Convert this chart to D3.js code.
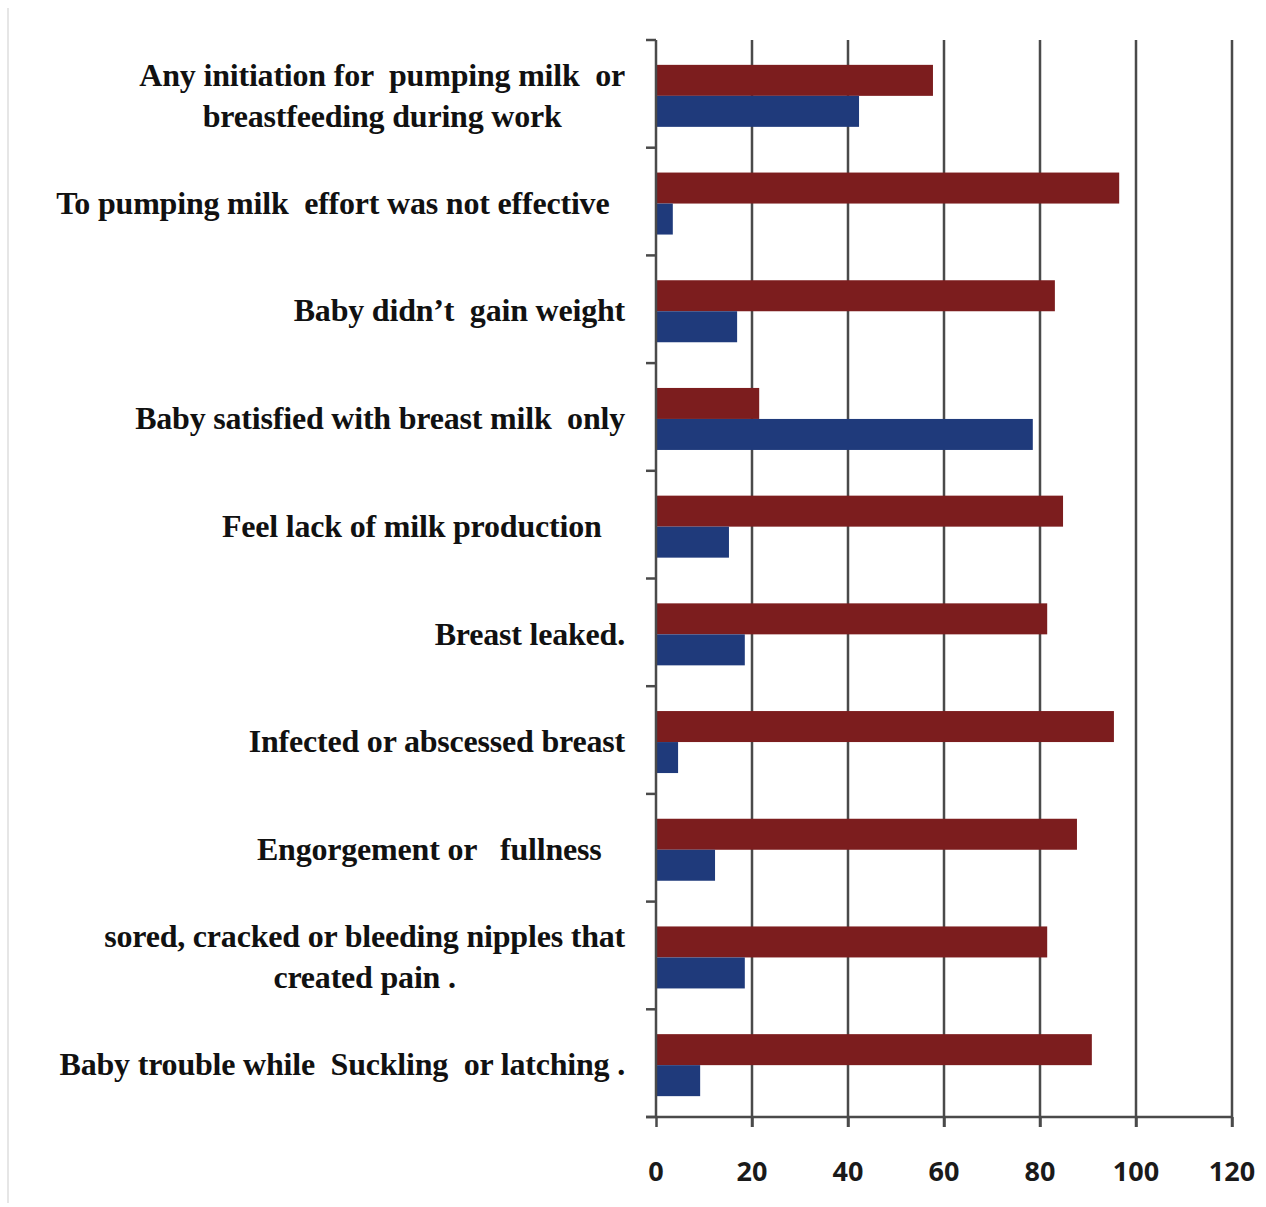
<!DOCTYPE html>
<html>
<head>
<meta charset="utf-8">
<script src="https://cdn.jsdelivr.net/npm/d3@7"></script>
<style>
  body { margin: 0; background: #fff; }
  svg { display: block; }
  .cat { font-family: "Liberation Serif", "DejaVu Serif", serif; font-weight: bold; font-size: 32px; fill: #111; letter-spacing: -0.2px; white-space: pre; }
  .tick-label { font-family: "Open Sans", "DejaVu Sans", sans-serif; font-weight: bold; font-size: 27px; fill: #1a1a1a; }
</style>
</head>
<body>
<div id="container"></div>
<script>
// categories top to bottom, each may have two lines
const categories = [
    ['Any initiation for  pumping milk  or', 'breastfeeding during work'],
    ['To pumping milk  effort was not effective  '],
    ['Baby didn\u2019t  gain weight'],
    ['Baby satisfied with breast milk  only'],
    ['Feel lack of milk production   '],
    ['Breast leaked.'],
    ['Infected or abscessed breast'],
    ['Engorgement or   fullness   '],
    ['sored, cracked or bleeding nipples that', 'created pain .'],
    ['Baby trouble while  Suckling  or latching .']
];
const redValues = [57.7, 96.5, 83.1, 21.5, 84.8, 81.5, 95.4, 87.7, 81.5, 90.8];
const blueValues = [42.3, 3.5, 16.9, 78.5, 15.2, 18.5, 4.6, 12.3, 18.5, 9.2];
const xTicks = [0, 20, 40, 60, 80, 100, 120];

const width = 1266;
const height = 1207;
const margin = { top: 40, left: 656, right: 34, bottom: 90 };
const plotW = width - margin.left - margin.right;
const plotH = height - margin.top - margin.bottom;
const red = '#7c1d1e';
const blue = '#1f3a7b';
const gridColor = '#4a4a4a';

const svg = d3.select('#container').append('svg')
    .attr('width', width)
    .attr('height', height);

// faint frame on the left, as in the scanned figure
svg.append('line')
    .attr('x1', 8).attr('x2', 8)
    .attr('y1', 8).attr('y2', height - 4)
    .attr('stroke', '#e6e6e6').attr('stroke-width', 2);

const g = svg.append('g').attr('transform', `translate(${margin.left},${margin.top})`);

const x = d3.scaleLinear().domain([0, 120]).range([0, plotW]);
const y = d3.scaleBand().domain(d3.range(categories.length)).range([0, plotH]);
const sub = d3.scaleBand().domain(['red', 'blue']).range([0, 62]);
const groupOffset = (y.bandwidth() - 62) / 2 + 2;

// vertical gridlines
g.selectAll('.grid')
    .data(xTicks.filter(d => d > 0))
    .join('line')
    .attr('x1', d => x(d)).attr('x2', d => x(d))
    .attr('y1', 0).attr('y2', plotH + 10)
    .attr('stroke', gridColor)
    .attr('stroke-width', 2.5);

// bars
const groups = g.selectAll('.grp')
    .data(categories)
    .join('g')
    .attr('transform', (d, i) => `translate(0,${y(i) + groupOffset})`);

groups.append('rect')
    .attr('x', 0)
    .attr('y', sub('red'))
    .attr('width', (d, i) => x(redValues[i]))
    .attr('height', sub.bandwidth())
    .attr('fill', red);

groups.append('rect')
    .attr('x', 0)
    .attr('y', sub('blue'))
    .attr('width', (d, i) => x(blueValues[i]))
    .attr('height', sub.bandwidth())
    .attr('fill', blue);

// x axis
const xAxis = g.append('g')
    .attr('transform', `translate(0,${plotH})`)
    .call(d3.axisBottom(x).tickValues(xTicks).tickSize(10).tickFormat(''));
xAxis.select('.domain').attr('stroke', gridColor).attr('stroke-width', 2.5)
    .attr('d', `M-10,0H${plotW}`);
xAxis.selectAll('.tick line').attr('stroke', gridColor).attr('stroke-width', 2.5);

g.selectAll('.tick-label')
    .data(xTicks)
    .join('text')
    .attr('class', 'tick-label')
    .attr('x', d => x(d))
    .attr('y', plotH + 64)
    .attr('text-anchor', 'middle')
    .text(d => d);

// y axis with ticks at category boundaries
const boundaries = d3.range(categories.length + 1).map(i => i * y.step());
g.append('line')
    .attr('x1', 0).attr('x2', 0)
    .attr('y1', 0).attr('y2', plotH)
    .attr('stroke', gridColor).attr('stroke-width', 2.5);
g.selectAll('.ytick')
    .data(boundaries)
    .join('line')
    .attr('x1', -10).attr('x2', 0)
    .attr('y1', d => d).attr('y2', d => d)
    .attr('stroke', gridColor).attr('stroke-width', 2.5);

// category labels: right aligned, wrapped lines centred under the first
const lineH = 41;
const labelRight = -31;
categories.forEach((lines, i) => {
    const cy = y(i) + y.bandwidth() / 2 + 1;
    const top = cy - (lines.length - 1) * lineH / 2;
    const first = g.append('text')
        .attr('class', 'cat')
        .attr('xml:space', 'preserve')
        .attr('text-anchor', 'end')
        .attr('x', labelRight)
        .attr('y', top)
        .attr('dy', '0.35em')
        .text(lines[0]);
    if (lines.length > 1) {
        const centre = labelRight - first.node().getComputedTextLength() / 2;
        lines.slice(1).forEach((l, k) => {
            g.append('text')
                .attr('class', 'cat')
                .attr('xml:space', 'preserve')
                .attr('text-anchor', 'middle')
                .attr('x', centre)
                .attr('y', top + (k + 1) * lineH)
                .attr('dy', '0.35em')
                .text(l);
        });
    }
});
</script>
</body>
</html>
